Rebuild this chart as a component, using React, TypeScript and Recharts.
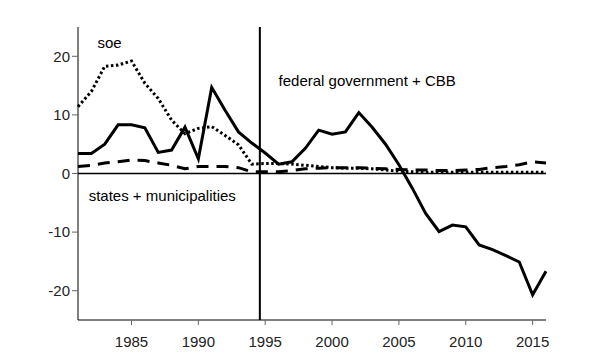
import { LineChart, Line, XAxis, YAxis, ReferenceLine, ReferenceDot } from 'recharts'

const years = [
  1981, 1982, 1983, 1984, 1985, 1986, 1987, 1988, 1989, 1990, 1991, 1992,
  1993, 1994, 1995, 1996, 1997, 1998, 1999, 2000, 2001, 2002, 2003, 2004,
  2005, 2006, 2007, 2008, 2009, 2010, 2011, 2012, 2013, 2014, 2015, 2016,
]

// federal government + CBB (solid)
const federal = [
  3.4, 3.4, 5.0, 8.3, 8.3, 7.8, 3.6, 4.0, 7.9, 2.5, 14.7, 10.8,
  7.1, 5.2, 3.5, 1.6, 2.0, 4.3, 7.4, 6.7, 7.1, 10.4, 7.9, 5.0,
  1.5, -2.5, -6.8, -9.9, -8.8, -9.1, -12.2, -13.0, -14.0, -15.1, -20.7, -16.7,
]

// soe (dotted)
const soe = [
  11.4, 14.0, 18.3, 18.5, 19.2, 15.4, 12.8, 9.1, 6.8, 7.7, 8.0, 6.5,
  4.9, 1.6, 1.7, 1.7, 1.6, 1.4, 1.2, 1.0, 0.9, 0.9, 0.8, 0.6,
  0.4, 0.3, 0.2, 0.2, 0.2, 0.2, 0.2, 0.2, 0.2, 0.2, 0.2, 0.2,
]

// states + municipalities (dashed)
const states = [
  1.2, 1.4, 1.8, 2.0, 2.3, 2.2, 1.8, 1.4, 0.8, 1.2, 1.2, 1.2,
  1.0, 0.3, 0.3, 0.3, 0.5, 0.8, 0.9, 1.0, 1.0, 1.0, 0.9, 0.8,
  0.7, 0.6, 0.6, 0.5, 0.5, 0.6, 0.7, 1.0, 1.2, 1.5, 2.0, 1.8,
]

const xTicks = [1985, 1990, 1995, 2000, 2005, 2010, 2015]
const yTicks = [-20, -10, 0, 10, 20]

const breakYear = 1994.6

const labels = [
  { text: 'soe', x: 1982.45, y: 22.4 },
  { text: 'federal government + CBB', x: 1996.0, y: 15.8 },
  { text: 'states + municipalities', x: 1981.8, y: -3.8 },
]

const data = years.map((year, i) => ({
  year,
  federal: federal[i],
  soe: soe[i],
  states: states[i],
}))

const FONT = '"Liberation Sans", Arial, sans-serif'

export default function App() {
  return (
    <div style={{ position: 'absolute', left: 0, top: 0, width: 600, height: 360, background: '#fff' }}>
      <LineChart width={600} height={360} data={data} margin={{ top: 27, right: 54, left: 0, bottom: 0 }}>
        <XAxis
          dataKey="year"
          type="number"
          domain={[1981, 2016]}
          ticks={xTicks}
          height={40}
          tick={{ fontSize: 15, fill: '#222', fontFamily: FONT }}
          tickSize={5}
          tickMargin={11}
          axisLine={{ stroke: '#000', strokeWidth: 1 }}
          tickLine={{ stroke: '#666' }}
        />
        <YAxis
          type="number"
          domain={[-25, 25]}
          ticks={yTicks}
          width={78}
          tick={{ fontSize: 15, fill: '#222', fontFamily: FONT }}
          tickSize={6}
          tickMargin={2}
          axisLine={{ stroke: '#000', strokeWidth: 1 }}
          tickLine={{ stroke: '#666' }}
        />

        {/* zero line and 1994 break */}
        <ReferenceLine y={0} stroke="#000" strokeWidth={1.5} />
        <ReferenceLine x={breakYear} stroke="#000" strokeWidth={2} />

        <Line dataKey="states" stroke="#000" strokeWidth={3} strokeDasharray="12 8" dot={false} isAnimationActive={false} />
        <Line dataKey="soe" stroke="#000" strokeWidth={3} strokeDasharray="2.5 2.5" dot={false} isAnimationActive={false} />
        <Line dataKey="federal" stroke="#000" strokeWidth={3} dot={false} isAnimationActive={false} />

        {labels.map((l) => (
          <ReferenceDot
            key={l.text}
            x={l.x}
            y={l.y}
            r={0}
            fill="none"
            stroke="none"
            label={{ value: l.text, position: 'right', offset: 0, fontSize: 15, fill: '#000', fontFamily: FONT }}
          />
        ))}
      </LineChart>
    </div>
  )
}
